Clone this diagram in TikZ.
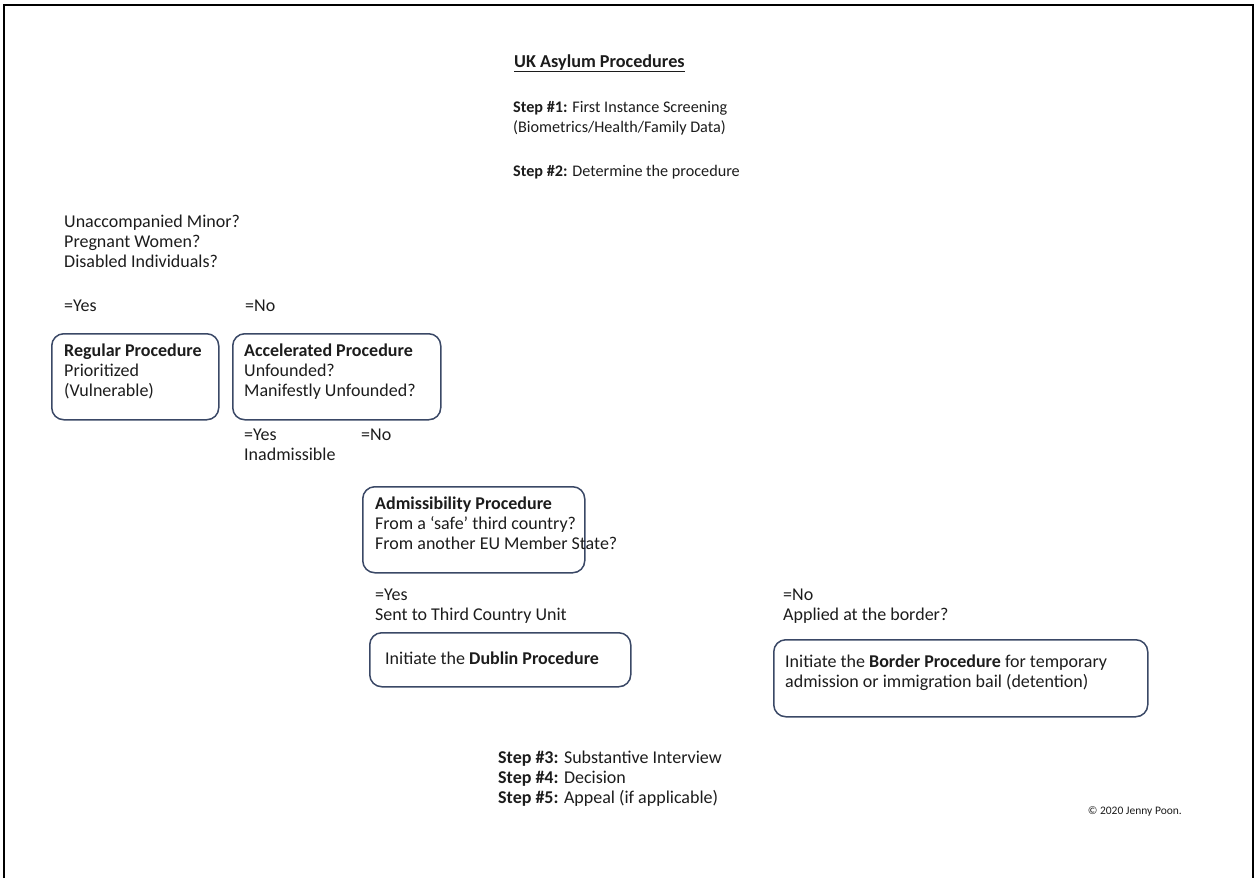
\documentclass[tikz,border=0pt]{standalone}
\usepackage{fontspec}
\setmainfont{Carlito}
\definecolor{txtc}{RGB}{28,28,28}
\definecolor{boxc}{RGB}{58,72,102}
\begin{document}
\begin{tikzpicture}[x=1pt,y=-1pt,
  txt/.style={anchor=base west,inner sep=0pt,align=left,text=txtc,font=\fontsize{18}{20}\selectfont},
  smalltxt/.style={txt,font=\fontsize{16.2}{20}\selectfont},
  box/.style={draw=boxc,line width=1.5pt,rounded corners=12pt,anchor=north west,inner sep=0pt},
  frame/.style={draw=black,line width=2.5pt}]
\useasboundingbox (0,0) rectangle (1257,878);
\draw[frame] (4,878) -- (4,5) -- (1253,5) -- (1253,878);
% title and steps (base anchor = baseline of last line)
\node[txt,font=\fontsize{18.2}{20}\selectfont] (title) at (514,67) {\textbf{\underline{UK Asylum Procedures}}};
\node[smalltxt] (s1) at (513,132) {\textbf{Step \#1:} First Instance Screening\\(Biometrics/Health/Family Data)};
\node[smalltxt] (s2) at (513,176) {\textbf{Step \#2:} Determine the procedure};
\node[txt] (q1) at (64,267) {Unaccompanied Minor?\\Pregnant Women?\\Disabled Individuals?};
\node[txt] (y1) at (64,311) {=Yes};
\node[txt] (n1) at (245,311) {=No};
% boxes
\node[box,minimum width=167pt,minimum height=86pt] (reg) at (51,333) {};
\node[txt] (regt) at (64,396) {\textbf{Regular Procedure}\\Prioritized\\(Vulnerable)};
\node[box,minimum width=208pt,minimum height=86pt] (acc) at (232,333) {};
\node[txt] (acct) at (244,396) {\textbf{Accelerated Procedure}\\Unfounded?\\Manifestly Unfounded?};
\node[txt] (y2) at (244,460) {=Yes\\Inadmissible};
\node[txt] (n2) at (361,440) {=No};
\node[box,minimum width=222pt,minimum height=86pt] (adm) at (362,486) {};
\node[txt] (admt) at (375,549) {\textbf{Admissibility Procedure}\\From a `safe' third country?\\From another EU Member State?};
\node[txt] (y3) at (375,620) {=Yes\\Sent to Third Country Unit};
\node[box,minimum width=261pt,minimum height=54pt] (dub) at (369,632) {};
\node[txt] (dubt) at (385,664) {Initiate the \textbf{Dublin Procedure}};
\node[txt] (n3) at (783,620) {=No\\Applied at the border?};
\node[box,minimum width=374pt,minimum height=77pt] (bor) at (773,639) {};
\node[txt] (bort) at (785,687) {Initiate the \textbf{Border Procedure} for temporary\\admission or immigration bail (detention)};
\node[txt] (s3) at (498,803) {\textbf{Step \#3:} Substantive Interview\\\textbf{Step \#4:} Decision\\\textbf{Step \#5:} Appeal (if applicable)};
\node[txt,anchor=base east,font=\fontsize{11.5}{14}\selectfont] (copy) at (1182,814) {\textcopyright{} 2020 Jenny Poon.};
\end{tikzpicture}
\end{document}
